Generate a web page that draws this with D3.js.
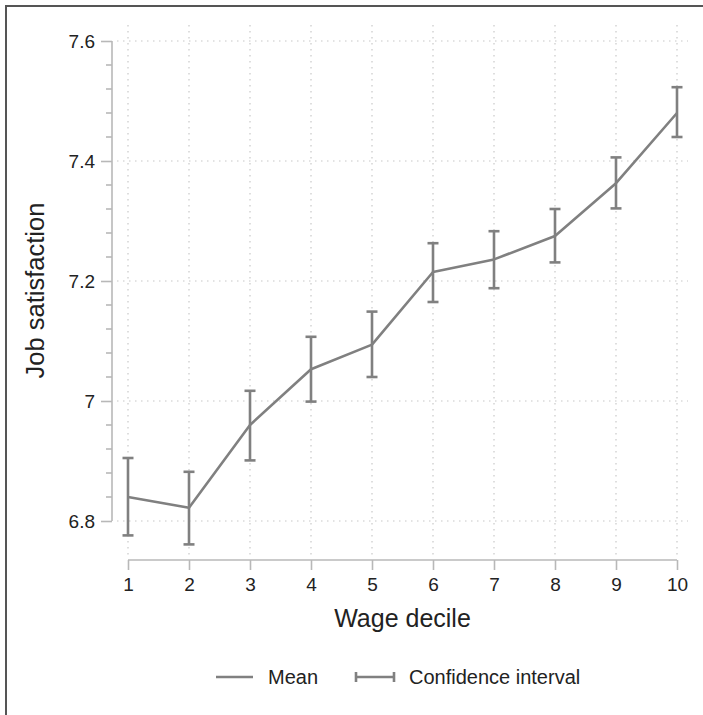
<!DOCTYPE html>
<html>
<head>
<meta charset="utf-8">
<script src="https://cdn.jsdelivr.net/npm/d3@7"></script>
<style>
  html, body { margin: 0; padding: 0; background: #fff; }
  svg { display: block; font-family: "Liberation Sans", Arial, Helvetica, sans-serif; }
</style>
</head>
<body>
<svg id="chart" width="703" height="715"></svg>
<script>
// Mean job satisfaction by wage decile, with confidence intervals
const deciles = [1, 2, 3, 4, 5, 6, 7, 8, 9, 10];
const meanValues = [6.840, 6.822, 6.960, 7.053, 7.094, 7.215, 7.236, 7.275, 7.363, 7.480];
const ciLower   = [6.776, 6.761, 6.901, 6.999, 7.040, 7.165, 7.188, 7.231, 7.321, 7.440];
const ciUpper   = [6.905, 6.882, 7.017, 7.107, 7.149, 7.263, 7.283, 7.320, 7.406, 7.523];
const yMajorTicks = [6.8, 7, 7.2, 7.4, 7.6];
const yTickLabels = ["6.8", "7", "7.2", "7.4", "7.6"];
const xTickLabels = ["1", "2", "3", "4", "5", "6", "7", "8", "9", "10"];

const svg = d3.select("#chart");
const lineColor = "#808080";
const axisColor = "#b8b8b8";
const gridColor = "#c8c8c8";
const textColor = "#222";

// plot region and scales
const region = { left: 117, right: 688, top: 25, bottom: 556 };
const x = d3.scaleLinear().domain([1, 10]).range([128, 677]);
const y = d3.scaleLinear().domain([6.8, 7.6]).range([521, 41]);

// outer frame (top and left edges)
svg.append("path")
  .attr("d", "M6,715 L6,6 L703,6")
  .attr("fill", "none")
  .attr("stroke", "#555")
  .attr("stroke-width", 2);

// dotted gridlines
const grid = svg.append("g")
  .attr("stroke", gridColor)
  .attr("stroke-width", 1.2)
  .attr("stroke-dasharray", "1.5,4.5");
grid.selectAll("line.v").data(deciles).join("line")
  .attr("class", "v")
  .attr("x1", d => x(d)).attr("x2", d => x(d))
  .attr("y1", region.top).attr("y2", region.bottom);
grid.selectAll("line.h").data(yMajorTicks).join("line")
  .attr("class", "h")
  .attr("x1", region.left).attr("x2", region.right)
  .attr("y1", d => y(d)).attr("y2", d => y(d));

// y axis: major ticks with labels, minor ticks every 0.04
const yMinor = d3.range(0, 21).map(i => +(6.8 + i * 0.04).toFixed(2))
  .filter(v => !yMajorTicks.some(m => Math.abs(m - v) < 1e-6));
const yAxisX = 112;
const yAxisG = svg.append("g").attr("transform", `translate(${yAxisX},0)`)
  .call(d3.axisLeft(y).tickValues(yMajorTicks)
    .tickFormat((d, i) => yTickLabels[i]).tickSize(11).tickPadding(6));
yAxisG.select(".domain").attr("d", `M0,${y(7.6)}V${y(6.8)}`);
yAxisG.selectAll(".minor").data(yMinor).join("line")
  .attr("class", "minor")
  .attr("x1", -6).attr("x2", 0)
  .attr("y1", d => y(d)).attr("y2", d => y(d));

// x axis
const xAxisY = 560;
const xAxisG = svg.append("g").attr("transform", `translate(0,${xAxisY})`)
  .call(d3.axisBottom(x).tickValues(deciles)
    .tickFormat((d, i) => xTickLabels[i]).tickSize(10).tickPadding(8));
xAxisG.select(".domain").attr("d", `M${x(1)},0H${x(10)}`);

[yAxisG, xAxisG].forEach(g => {
  g.selectAll(".domain, line").attr("stroke", axisColor).attr("stroke-width", 1.6);
  g.selectAll("text").attr("fill", textColor)
    .style("font-size", "19px")
    .style("font-family", "'Liberation Sans', Arial, sans-serif");
});

// axis titles
svg.append("text")
  .attr("x", (region.left + region.right) / 2).attr("y", 627)
  .attr("text-anchor", "middle").attr("fill", textColor)
  .style("font-size", "25px")
  .text("Wage decile");
svg.append("text")
  .attr("transform", `translate(44,${(region.top + region.bottom) / 2}) rotate(-90)`)
  .attr("text-anchor", "middle").attr("fill", textColor)
  .style("font-size", "25.5px")
  .text("Job satisfaction");

// confidence interval bars
const capHalf = 5.5;
const ci = svg.append("g").attr("stroke", lineColor).attr("stroke-width", 2.6);
deciles.forEach((d, i) => {
  const cx = x(d);
  ci.append("line").attr("x1", cx).attr("x2", cx)
    .attr("y1", y(ciLower[i])).attr("y2", y(ciUpper[i]));
  ci.append("line").attr("x1", cx - capHalf).attr("x2", cx + capHalf)
    .attr("y1", y(ciUpper[i])).attr("y2", y(ciUpper[i]));
  ci.append("line").attr("x1", cx - capHalf).attr("x2", cx + capHalf)
    .attr("y1", y(ciLower[i])).attr("y2", y(ciLower[i]));
});

// mean line
const line = d3.line().x((d, i) => x(deciles[i])).y(d => y(d));
svg.append("path")
  .datum(meanValues)
  .attr("d", line)
  .attr("fill", "none")
  .attr("stroke", lineColor)
  .attr("stroke-width", 2.6)
  .attr("stroke-linejoin", "round");

// legend
const lg = svg.append("g");
const legY = 677;
lg.append("line").attr("x1", 216).attr("x2", 253).attr("y1", legY).attr("y2", legY)
  .attr("stroke", lineColor).attr("stroke-width", 2.6);
lg.append("text").attr("x", 268).attr("y", legY + 7).attr("fill", textColor)
  .style("font-size", "20px").text("Mean");
const ciG = lg.append("g").attr("stroke", lineColor).attr("stroke-width", 2.6);
ciG.append("line").attr("x1", 356).attr("x2", 394).attr("y1", legY).attr("y2", legY);
ciG.append("line").attr("x1", 356).attr("x2", 356).attr("y1", legY - 5).attr("y2", legY + 5);
ciG.append("line").attr("x1", 394).attr("x2", 394).attr("y1", legY - 5).attr("y2", legY + 5);
lg.append("text").attr("x", 409).attr("y", legY + 7).attr("fill", textColor)
  .style("font-size", "20px").text("Confidence interval");
</script>
</body>
</html>
